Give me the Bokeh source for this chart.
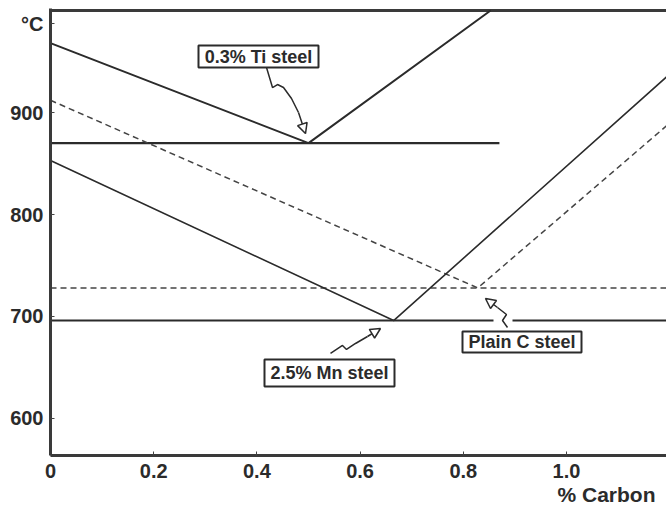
from bokeh.plotting import figure
from bokeh.models import Range1d, FixedTicker, Title, Arrow, NormalHead, ColumnDataSource
from bokeh.core.properties import value
from bokeh.embed import file_html
from bokeh.resources import INLINE

# ---------------- data ----------------
x_ticks = [0, 0.2, 0.4, 0.6, 0.8, 1.0]
x_tick_labels = ["0", "0.2", "0.4", "0.6", "0.8", "1.0"]
y_ticks = [600, 700, 800, 900]
y_unit_label = "°C"
x_title = "% Carbon"

# 0.3% Ti steel (solid): A3/Acm boundary and A1 line
ti_carbon = [0.0, 0.50, 0.853]
ti_temp = [968, 870, 1000]
ti_a1_carbon = [0.0, 0.87]
ti_a1_temp = [870, 870]

# Plain C steel (dashed)
c_carbon = [0.0, 0.828, 1.194]
c_temp = [912, 728, 887]
c_a1_carbon = [0.0, 1.194]
c_a1_temp = [728, 728]

# 2.5% Mn steel (solid, thinner)
mn_carbon = [0.0, 0.665, 1.194]
mn_temp = [853, 696, 935]
mn_a1_carbon = [0.0, 1.194]
mn_a1_temp = [696, 696]

labels = ["0.3% Ti steel", "2.5% Mn steel", "Plain C steel"]

# ---------------- layout helpers (pixel -> data for annotations) ----------------
X0, XS = 50.0, 516.0        # px of x=0, px per 1% C
Y600, YS = 418.0, 1.02      # px of 600 C, px per degree


def px_x(px):
    return (px - X0) / XS


def px_y(py):
    return 600 + (Y600 - py) / YS


INK = "#2b2b2b"
FONT = "Liberation Sans"

p = figure(width=666, height=510,
           x_range=Range1d(0, 1.1938), y_range=Range1d(563.7, 1002),
           output_backend="svg", toolbar_location=None,
           min_border_left=50, min_border_right=0,
           min_border_top=8, min_border_bottom=55)
p.grid.visible = False
p.outline_line_color = None
p.background_fill_color = "white"
p.border_fill_color = "white"

for ax in (p.xaxis[0], p.yaxis[0]):
    ax.axis_line_width = 3
    ax.axis_line_color = "#3a3a3a"
    ax.major_tick_in = 4
    ax.major_tick_out = 0
    ax.major_tick_line_color = "#444444"
    ax.minor_tick_line_color = None
    ax.major_label_text_font = FONT
    ax.major_label_text_font_style = "bold"
    ax.major_label_text_font_size = "20px"
    ax.major_label_text_color = INK

p.xaxis.ticker = FixedTicker(ticks=x_ticks)
p.xaxis.major_label_overrides = {t: s for t, s in zip(x_ticks, x_tick_labels)}
p.xaxis.major_label_standoff = 8

# the degree-unit label sits at the top of the temperature axis
unit_pos = px_y(23)
p.yaxis.ticker = FixedTicker(ticks=y_ticks + [unit_pos])
p.yaxis.major_label_overrides = {unit_pos: y_unit_label}
p.yaxis.major_label_standoff = 7

p.add_layout(Title(text=x_title, align="right", offset=11, standoff=0,
                   text_font=FONT, text_font_style="bold", text_font_size="21px",
                   text_color=INK), "below")

# top border
p.line([0, 1.1938], [1000, 1000], line_color="#3a3a3a", line_width=3)

# curves
p.line(ti_carbon, ti_temp, line_color=INK, line_width=2)
p.line(ti_a1_carbon, ti_a1_temp, line_color=INK, line_width=2.2)
p.line(c_carbon, c_temp, line_color="#444444", line_width=1.5, line_dash="6 4")
p.line(c_a1_carbon, c_a1_temp, line_color="#444444", line_width=1.5, line_dash="6 4")
p.line(mn_carbon, mn_temp, line_color=INK, line_width=1.6)
p.line(mn_a1_carbon, mn_a1_temp, line_color=INK, line_width=2)

# gap in the Mn A1 line where the Plain C arrow crosses
p.line([px_x(493), px_x(512)], [mn_a1_temp[0], mn_a1_temp[0]], line_color="white", line_width=5)

# squiggly leader arrows (pixel paths)
paths = [
    [(266, 67), (272, 87), (277, 84), (283, 87), (291, 98), (298, 112), (305, 133)],
    [(330, 353), (342, 345), (346, 349), (355, 343), (367, 336), (380, 328)],
    [(507, 327), (502, 320), (506, 314), (497, 307), (485, 298)],
]
for path in paths:
    xs = [px_x(a) for a, b in path]
    ys = [px_y(b) for a, b in path]
    p.line(xs[:-1], ys[:-1], line_color=INK, line_width=1.5)
    p.add_layout(Arrow(end=NormalHead(size=10, fill_color="white", line_color=INK, line_width=1.5),
                       x_start=xs[-2], y_start=ys[-2], x_end=xs[-1], y_end=ys[-1],
                       line_color=INK, line_width=1.5))

# label boxes
box_px = [(258, 56, 120, 22), (329, 372.5, 130, 27), (521.5, 341.5, 119, 21)]
src = ColumnDataSource(dict(
    x=[px_x(b[0]) for b in box_px],
    y=[px_y(b[1]) for b in box_px],
    w=[b[2] for b in box_px],
    h=[b[3] for b in box_px],
    t=labels,
))
p.rect("x", "y", width="w", height="h", width_units="screen", height_units="screen",
       source=src, fill_color="white", line_color=INK, line_width=2)
p.text("x", "y", text="t", source=src, text_font=value(FONT), text_font_style="bold",
       text_font_size="18px", text_align="center", text_baseline="middle", text_color=INK)

open("out.html", "w").write(file_html(p, INLINE))
